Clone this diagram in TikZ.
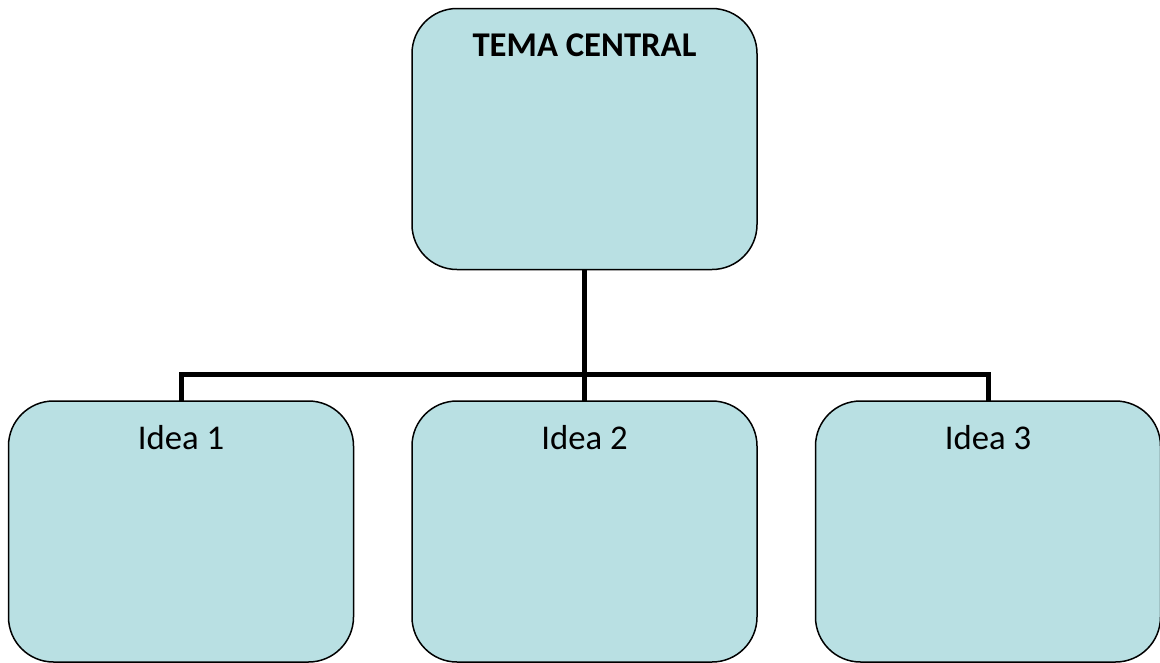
\documentclass[tikz,border=0pt]{standalone}
\usepackage{fontspec}
\setmainfont{Carlito}
\definecolor{boxfill}{RGB}{185,224,227}
\begin{document}
\begin{tikzpicture}[x=1pt,y=-1pt,
  box/.style={draw=black,line width=1.5pt,fill=boxfill,rounded corners=45pt,
    minimum width=345pt,minimum height=261pt,inner sep=0pt,outer sep=0pt},
  lbl/.style={font=\fontsize{34.7}{40}\selectfont,inner sep=0pt,anchor=center},
  conn/.style={draw=black,line width=5pt}]
\useasboundingbox (0,0) rectangle (1160,662);
\node[box] (top) at (584.5,139) {};
\node[box] (i1) at (181,531.5) {};
\node[box] (i2) at (584.5,531.5) {};
\node[box] (i3) at (988,531.5) {};
\draw[conn] (top.south) -- (i2.north);
\draw[conn] (i1.north) -- ++(0,-27) -| (i3.north);
\node[lbl,font=\fontsize{34.7}{40}\selectfont\bfseries] (t0) at ([yshift=-37pt]top.north) {TEMA CENTRAL};
\node[lbl] (t1) at ([yshift=-37pt]i1.north) {Idea 1};
\node[lbl] (t2) at ([yshift=-37pt]i2.north) {Idea 2};
\node[lbl] (t3) at ([yshift=-37pt]i3.north) {Idea 3};
\end{tikzpicture}
\end{document}
